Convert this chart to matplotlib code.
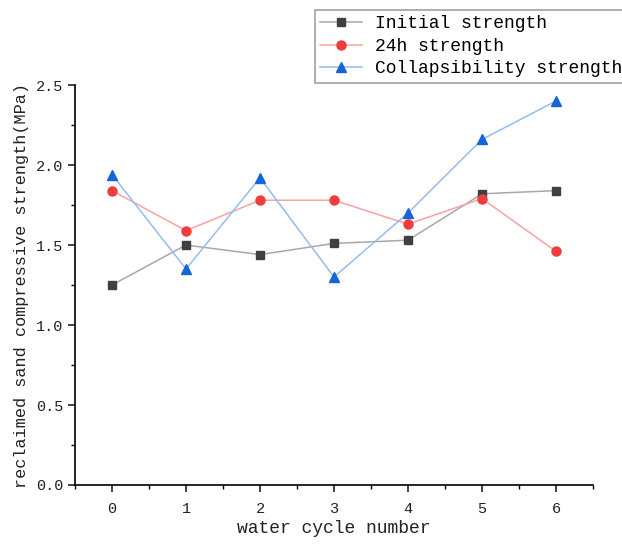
import matplotlib.pyplot as plt
from matplotlib.ticker import MultipleLocator
import numpy as np

# data
cycles = [0, 1, 2, 3, 4, 5, 6]
initial = [1.25, 1.50, 1.44, 1.51, 1.53, 1.82, 1.84]
h24 = [1.84, 1.59, 1.78, 1.78, 1.63, 1.79, 1.46]
collapse = [1.94, 1.35, 1.92, 1.30, 1.70, 2.16, 2.40]

plt.rcParams['font.family'] = ['Liberation Mono', 'DejaVu Sans Mono']

fig = plt.figure(figsize=(6.22, 5.45), dpi=100)
ax = fig.add_axes([0.1206, 0.1101, 0.8328, 0.7339])

ax.plot(cycles, initial, '-s', color='#a8a8a8', lw=1.1, mfc='#404040', mec='#404040',
        ms=6, label='Initial strength')
ax.plot(cycles, h24, '-o', color='#f5a3a3', lw=1.1, mfc='#f03c3c', mec='#f03c3c',
        ms=6.5, label='24h strength')
ax.plot(cycles, collapse, '-^', color='#96bcea', lw=1.1, mfc='#1565d8', mec='#1565d8',
        ms=7, label='Collapsibility strength')

ax.set_xlim(-0.5, 6.5)
ax.set_ylim(0, 2.5)
ax.set_xticks(np.arange(0, 7, 1))
ax.set_yticks(np.arange(0, 2.6, 0.5))
ax.set_yticklabels(['0.0', '0.5', '1.0', '1.5', '2.0', '2.5'])
ax.xaxis.set_minor_locator(MultipleLocator(0.5))
ax.yaxis.set_minor_locator(MultipleLocator(0.25))

ax.spines[['top', 'right']].set_visible(False)
ax.spines[['left', 'bottom']].set_linewidth(1.2)
ax.tick_params(axis='both', which='major', direction='out', length=5, width=1.2,
               labelsize=11, colors='#222222')
ax.tick_params(axis='x', which='major', pad=7)
ax.tick_params(axis='both', which='minor', direction='out', length=3, width=1.0)

ax.set_xlabel('water cycle number', fontsize=13, color='#222222', labelpad=3)
ax.set_ylabel('reclaimed sand compressive strength(MPa)', fontsize=12.2, color='#222222',
              labelpad=5)

leg = fig.legend(loc='upper left', bbox_to_anchor=(315 / 622, 1 - 10 / 545),
                 fontsize=13, frameon=True, fancybox=False, handlelength=2.3,
                 borderpad=0.3, labelspacing=0.3, handletextpad=0.7,
                 borderaxespad=0)
leg.get_frame().set_edgecolor('#888888')
leg.get_frame().set_linewidth(1.2)

fig.savefig('out.png', dpi=100)
